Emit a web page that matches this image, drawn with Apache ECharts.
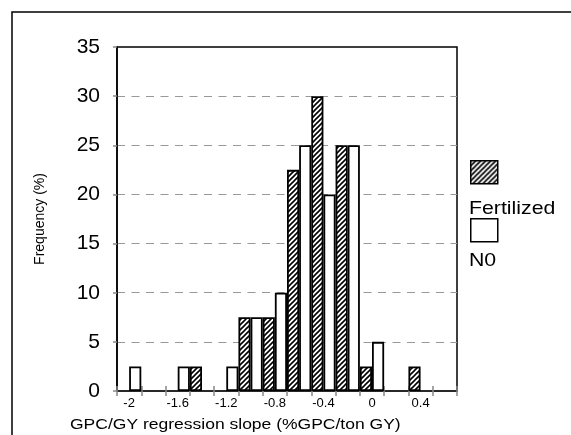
<!DOCTYPE html>
<html>
<head>
<meta charset="utf-8">
<script src="https://cdn.jsdelivr.net/npm/echarts@6/dist/echarts.min.js"></script>
<style>
  html, body { margin: 0; padding: 0; background: #fff; }
  #chart { width: 571px; height: 435px; }
</style>
</head>
<body>
<div id="chart"></div>
<script>
// Histogram of GPC/GY regression slopes, fertilized vs unfertilized (N0).
const categories = ['-2', '-1.8', '-1.6', '-1.4', '-1.2', '-1', '-0.8', '-0.6', '-0.4', '-0.2', '0', '0.2', '0.4', '0.6'];
const fertilized = [null, null, null, 2.5, null, 7.5, 7.5, 22.5, 30, 25, 2.5, null, 2.5, null];
const n0 = [2.5, null, 2.5, null, 2.5, 7.5, 10, 25, 20, 25, 5, null, null, null];
const yTicks = { min: 0, max: 35, interval: 5 };

const FONT = '"Liberation Sans", Arial, sans-serif';

// small tile of "/" hatching, used as the bar fill
function hatch() {
  const s = 5;
  const c = document.createElement('canvas');
  c.width = s; c.height = s;
  const g = c.getContext('2d');
  g.fillStyle = '#fff';
  g.fillRect(0, 0, s, s);
  g.strokeStyle = '#000';
  g.lineWidth = 1.6;
  g.beginPath();
  g.moveTo(0, s); g.lineTo(s, 0);
  g.moveTo(-1, 1); g.lineTo(1, -1);
  g.moveTo(s - 1, s + 1); g.lineTo(s + 1, s - 1);
  g.stroke();
  return { image: c, repeat: 'repeat' };
}

const chart = echarts.init(document.getElementById('chart'));
const hatchFill = hatch();

chart.setOption({
  animation: false,
  backgroundColor: '#fff',
  textStyle: { fontFamily: FONT },
  grid: {
    left: 117, top: 47, right: 114, bottom: 44,
    show: true, borderColor: '#000', borderWidth: 1.5, backgroundColor: 'transparent'
  },
  legend: [
    {
      data: ['Fertilized'], left: 470, top: 160, itemWidth: 27, itemHeight: 23, icon: 'rect',
      formatter: () => '', selectedMode: false, padding: 0,
      itemStyle: { borderColor: '#000', borderWidth: 1.5 }
    },
    {
      data: ['N0'], left: 470, top: 218, itemWidth: 27, itemHeight: 23, icon: 'rect',
      formatter: () => '', selectedMode: false, padding: 0,
      itemStyle: { borderColor: '#000', borderWidth: 1.5 }
    }
  ],
  graphic: [
    {
      type: 'rect', silent: true, z: -1,
      shape: { x: 12, y: 12, width: 620, height: 500 },
      style: { fill: 'none', stroke: '#000', lineWidth: 1.5 }
    },
    {
      type: 'text', x: 469, y: 199, scaleX: 1.12,
      style: { text: 'Fertilized', font: '19px ' + FONT, fill: '#000', verticalAlign: 'top' }
    },
    {
      type: 'text', x: 469, y: 251, scaleX: 1.12,
      style: { text: 'N0', font: '19px ' + FONT, fill: '#000', verticalAlign: 'top' }
    },
    {
      // x-axis title, drawn wide like the original
      type: 'text', x: 70, y: 418, scaleX: 1.25,
      style: { text: 'GPC/GY regression slope (%GPC/ton GY)', font: '14px ' + FONT, fill: '#000', verticalAlign: 'top' }
    }
  ],
  xAxis: [
    {
      type: 'category',
      data: categories,
      position: 'bottom',
      boundaryGap: true,
      axisLine: { lineStyle: { color: '#222', width: 1.5 } },
      axisTick: { show: true, interval: 0, length: 5, lineStyle: { color: '#888', width: 1.5 } },
      axisLabel: { interval: 1, fontSize: 13, color: '#000', margin: 6 },
      splitLine: { show: false }
    },
    {
      type: 'category',
      data: categories,
      position: 'bottom',
      boundaryGap: true,
      axisLine: { show: false },
      axisTick: { show: true, inside: true, interval: 0, length: 5, lineStyle: { color: '#888', width: 1.5 } },
      axisLabel: { show: false },
      splitLine: { show: false }
    }
  ],
  yAxis: {
    type: 'value',
    min: yTicks.min,
    max: yTicks.max,
    interval: yTicks.interval,
    name: 'Frequency (%)',
    nameLocation: 'middle',
    nameRotate: 90,
    nameGap: 70,
    nameTextStyle: { fontSize: 14, color: '#000' },
    axisLine: { show: true, lineStyle: { color: '#000', width: 1.5 } },
    axisTick: { show: true, length: 4, lineStyle: { color: '#888', width: 1.5 } },
    axisLabel: { fontSize: 21, color: '#000', margin: 17 },
    splitLine: { showMinLine: false, showMaxLine: false, lineStyle: { color: '#999', width: 1, type: [8, 6.5] } }
  },
  series: [
    {
      name: 'Fertilized',
      type: 'bar',
      data: fertilized,
      barGap: 0,
      barCategoryGap: 0,
      itemStyle: { color: hatchFill, borderColor: '#000', borderWidth: 1.8 }
    },
    {
      name: 'N0',
      type: 'bar',
      data: n0,
      barGap: 0,
      barCategoryGap: 0,
      itemStyle: { color: '#fff', borderColor: '#000', borderWidth: 1.8 }
    }
  ]
});
</script>
</body>
</html>
